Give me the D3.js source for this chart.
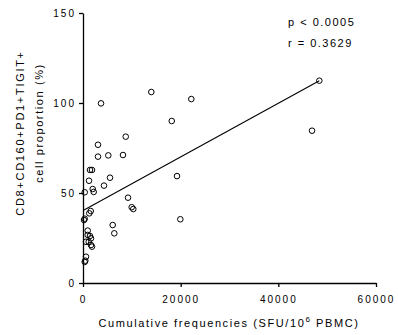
<!DOCTYPE html>
<html>
<head>
<meta charset="utf-8">
<script src="https://cdn.jsdelivr.net/npm/d3@7"></script>
<style>
  body { margin: 0; background: #fff; }
  svg text { font-family: "Liberation Sans", Arial, sans-serif; fill: #000; }
  .axis path, .axis line { stroke: #000; stroke-width: 1.3; }
  .axis text { font-size: 10px; letter-spacing: 2px; }
</style>
</head>
<body>
<div id="chart"></div>
<script>
// values
const sfu = [3690, 13990, 22180, 18170, 8750, 3070, 3070, 5180, 8190, 1430,
  1840, 1230, 5530, 4300, 1990, 2190, 350, 19250, 9220, 9970,
  10300, 1290, 1580, 210, 350, 19930, 6080, 6410, 960, 960,
  1430, 1640, 610, 1170, 1640, 1840, 610, 470, 350, 48390, 46900];
const proportion = [99.8, 106.1, 102.2, 90.0, 81.3, 76.8, 70.2, 70.9, 71.1, 62.8,
  62.8, 56.8, 58.5, 54.1, 52.2, 50.6, 50.4, 59.4, 47.4, 42.1,
  41.1, 38.7, 40.0, 35.0, 35.7, 35.4, 32.2, 27.6, 29.1, 26.7,
  26.1, 24.8, 22.9, 22.9, 21.1, 20.2, 14.6, 12.4, 11.7, 112.4, 84.6];
const xTicks = [0, 20000, 40000, 60000];
const yTicks = [0, 50, 100, 150];
const fit = { slope: 0.001489, intercept: 40.3 };
const stats = ["p < 0.0005", "r = 0.3629"];

const width = 398, height = 335,
  margin = { top: 13, right: 22, bottom: 52, left: 83 };

const svg = d3.select("#chart").append("svg")
  .attr("width", width)
  .attr("height", height);

const x = d3.scaleLinear().domain([0, 60000]).range([margin.left, width - margin.right]);
const y = d3.scaleLinear().domain([0, 150]).range([height - margin.bottom, margin.top]);

// axes
svg.append("g")
  .attr("class", "axis")
  .attr("transform", `translate(0,${y(0)})`)
  .call(d3.axisBottom(x).tickValues(xTicks).tickSize(4).tickPadding(9).tickSizeOuter(0).tickFormat(d3.format("d")));

svg.append("g")
  .attr("class", "axis")
  .attr("transform", `translate(${x(0)},0)`)
  .call(d3.axisLeft(y).tickValues(yTicks).tickSize(4).tickPadding(3).tickSizeOuter(0));

// regression line over the data range
const xr = d3.extent(sfu);
svg.append("line")
  .attr("x1", x(xr[0])).attr("y1", y(fit.intercept + fit.slope * xr[0]))
  .attr("x2", x(xr[1])).attr("y2", y(fit.intercept + fit.slope * xr[1]))
  .attr("stroke", "#000").attr("stroke-width", 1.1);

// points
svg.append("g").selectAll("circle")
  .data(sfu.map((v, i) => [v, proportion[i]]))
  .join("circle")
  .attr("cx", d => x(d[0]))
  .attr("cy", d => y(d[1]))
  .attr("r", 2.8)
  .attr("fill", "none")
  .attr("stroke", "#000")
  .attr("stroke-width", 1);

// stats
svg.append("g").selectAll("text")
  .data(stats)
  .join("text")
  .attr("x", 288)
  .attr("y", (d, i) => 26 + i * 21)
  .style("font-size", "11px")
  .style("letter-spacing", "1.5px")
  .text(d => d);

// x title
const xt = svg.append("text")
  .attr("x", 229)
  .attr("y", 327)
  .attr("text-anchor", "middle")
  .style("font-size", "11px")
  .style("letter-spacing", "1.6px");
xt.append("tspan").text("Cumulative frequencies (SFU/10");
xt.append("tspan").attr("dy", -5).style("font-size", "8px").text("6");
xt.append("tspan").attr("dy", 5).text(" PBMC)");

// y title, two lines
svg.append("text")
  .attr("transform", "translate(23.5,133) rotate(-90)")
  .attr("text-anchor", "middle")
  .style("font-size", "11px")
  .style("letter-spacing", "1.7px")
  .text("CD8+CD160+PD1+TIGIT+");
svg.append("text")
  .attr("transform", "translate(43,123) rotate(-90)")
  .attr("text-anchor", "middle")
  .style("font-size", "11px")
  .style("letter-spacing", "1.6px")
  .text("cell proportion (%)");
</script>
</body>
</html>
